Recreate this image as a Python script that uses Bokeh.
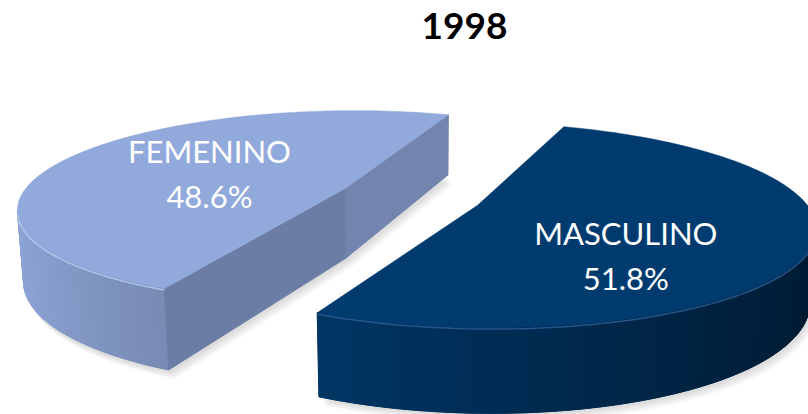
import numpy as np
from bokeh.plotting import figure
from bokeh.models import Range1d
from bokeh.core.properties import value
from bokeh.embed import file_html
from bokeh.resources import INLINE

TITLE = "1998"
CATEGORIES = ["FEMENINO", "MASCULINO"]
VALUES = [48.6, 51.8]
PCT_LABELS = ["48.6%", "51.8%"]

# 3D view: elevation (rad), camera distance, scale, centre x/y, start angle, height, explode
VIEW = dict(elev=0.3421, dist=5.0838, scale=319.61, cx=409.63, cy=266.92,
            start=1.2183, height=0.2306, explode=0.2220)

frac = np.array(VALUES) / sum(VALUES)
spans = frac * 2 * np.pi


def proj(X, Y, Z):
    e, D, S = VIEW["elev"], VIEW["dist"], VIEW["scale"]
    zc = Z * np.cos(e) + Y * np.sin(e)
    yc = Y * np.cos(e) - Z * np.sin(e)
    k = D / (D - zc)
    return VIEW["cx"] + S * X * k, VIEW["cy"] - S * yc * k, zc


def slice_defs():
    d = VIEW["explode"]
    out = []
    a = VIEW["start"]
    for sp in spans:
        mid = a + sp / 2
        out.append((a, a + sp, d * np.cos(mid), -d * np.sin(mid)))
        a += sp
    return out


def rim(sl, th, Y):
    a0, a1, ox, oz = sl
    th = np.asarray(th, float)
    return proj(ox + np.cos(th), Y * np.ones_like(th), oz - np.sin(th))


def ctr(sl, Y):
    a0, a1, ox, oz = sl
    x, y, z = proj(np.array(ox), np.array(float(Y)), np.array(oz))
    return float(x), float(y), float(z)


W, H = 808, 414
fig = figure(width=W, height=H, x_range=Range1d(0, W), y_range=Range1d(H, 0),
             output_backend="svg", toolbar_location=None, min_border=0)
fig.axis.visible = False
fig.grid.visible = False
fig.outline_line_color = None
fig.background_fill_color = "white"
fig.border_fill_color = "white"

TOP_COLORS = ["#91A9DB", "#003B6F"]
SIDE_BASE = [(143, 166, 216), (0, 64, 121)]
SIDE_UNDER = ["#8599CB", "#002A50"]
RADIAL_COLORS = [("#7385AE", "#6C7DA5"), ("#00325F", "#002B52")]
RIM_HL = ["#BDCFF3", "#2F6299"]
# label nudges in pixels (x, y of name line, y of percentage line)
LABEL_NUDGE = [(4, -20, 25), (-12, 8, 53)]

e, D, h = VIEW["elev"], VIEW["dist"], VIEW["height"]
cam = np.array([0.0, D * np.sin(e), D * np.cos(e)])
sls = slice_defs()


def hexc(rgb):
    return "#%02x%02x%02x" % tuple(int(max(0, min(255, round(v)))) for v in rgb)


# soft shadows
for sl in sls:
    a0, a1, ox, oz = sl
    th = np.linspace(a0, a1, 200)
    bx, by, _ = rim(sl, th, 0)
    c0 = ctr(sl, 0)
    xs = np.concatenate([[c0[0]], bx]); ys = np.concatenate([[c0[1]], by])
    for off in (9, 7, 5, 3):
        fig.patch(xs + off * 0.6, ys + off, fill_color="#808080", fill_alpha=0.07,
                  line_color=None)

for i, sl in enumerate(sls):
    a0, a1, ox, oz = sl
    N = 120
    th = np.linspace(a0, a1, N + 1)
    tx, ty, tz = rim(sl, th, h)
    bx, by, bz = rim(sl, th, 0)
    vis_pt = []
    for j in range(N + 1):
        n = np.array([np.cos(th[j]), 0, -np.sin(th[j])])
        pt = np.array([ox + np.cos(th[j]), h / 2, oz - np.sin(th[j])])
        vis_pt.append(np.dot(n, cam - pt) > 0)
    vis_pt = np.array(vis_pt)

    faces = []
    quads = []
    for j in range(N):
        if not (vis_pt[j] or vis_pt[j + 1]):
            continue
        tm = 0.5 * (th[j] + th[j + 1])
        f = 1 - 0.3 * (np.cos(tm) + 1)
        col = hexc([c * f for c in SIDE_BASE[i]])
        quads.append(([tx[j], tx[j + 1], bx[j + 1], bx[j]],
                      [ty[j], ty[j + 1], by[j + 1], by[j]], col))
    ct = ctr(sl, h); cb = ctr(sl, 0)
    for k, (ang, nang) in enumerate(((a0, a0 - np.pi / 2), (a1, a1 + np.pi / 2))):
        n = np.array([np.cos(nang), 0, -np.sin(nang)])
        pt = np.array([ox + 0.5 * np.cos(ang), h / 2, oz - 0.5 * np.sin(ang)])
        if np.dot(n, cam - pt) <= 0:
            continue
        rt = rim(sl, [ang], h); rb = rim(sl, [ang], 0)
        faces.append(([ct[0], float(rt[0][0]), float(rb[0][0]), cb[0]],
                      [ct[1], float(rt[1][0]), float(rb[1][0]), cb[1]],
                      RADIAL_COLORS[i][k]))
    if quads:
        idx = np.where(vis_pt)[0]
        j0, j1 = max(idx.min() - 1, 0), min(idx.max() + 1, N)
        ux = np.concatenate([tx[j0:j1 + 1], bx[j0:j1 + 1][::-1]])
        uy = np.concatenate([ty[j0:j1 + 1], by[j0:j1 + 1][::-1]])
        fig.patch(ux, uy, fill_color=SIDE_UNDER[i], line_color=SIDE_UNDER[i], line_width=0.5)
        fig.patches(xs=[q[0] for q in quads], ys=[q[1] for q in quads],
                    fill_color=[q[2] for q in quads], line_color=[q[2] for q in quads],
                    line_width=1.0)
    if faces:
        fig.patches(xs=[f_[0] for f_ in faces], ys=[f_[1] for f_ in faces],
                    fill_color=[f_[2] for f_ in faces], line_color=[f_[2] for f_ in faces],
                    line_width=0.8)
    fig.patch(np.concatenate([[ct[0]], tx]), np.concatenate([[ct[1]], ty]),
              fill_color=TOP_COLORS[i], line_color=TOP_COLORS[i], line_width=0.5)
    if vis_pt.any():
        fig.line(tx[vis_pt], ty[vis_pt] + 1.5, line_color=RIM_HL[i], line_alpha=0.8,
                 line_width=1.5)

# data labels on the top faces
LABEL_R = 0.5
for i, sl in enumerate(sls):
    a0, a1, ox, oz = sl
    mid = 0.5 * (a0 + a1)
    lx, ly, _ = proj(np.array(ox + LABEL_R * np.cos(mid)), np.array(h),
                     np.array(oz - LABEL_R * np.sin(mid)))
    nx, ny1, ny2 = LABEL_NUDGE[i]
    fig.text(x=[float(lx)], y=[float(ly)], text=[CATEGORIES[i]], text_color="white",
             text_font=value("Lato"), text_font_size="31px", text_align="center",
             text_baseline="alphabetic", x_offset=nx, y_offset=ny1)
    fig.text(x=[float(lx)], y=[float(ly)], text=[PCT_LABELS[i]], text_color="white",
             text_font=value("Lato"), text_font_size="31px", text_align="center",
             text_baseline="alphabetic", x_offset=nx, y_offset=ny2)

fig.text(x=[464], y=[25], text=[TITLE], text_color="black", text_font=value("Lato"),
         text_font_size="37px", text_font_style="bold", text_align="center",
         text_baseline="alphabetic")

open("out.html", "w").write(file_html(fig, INLINE))
